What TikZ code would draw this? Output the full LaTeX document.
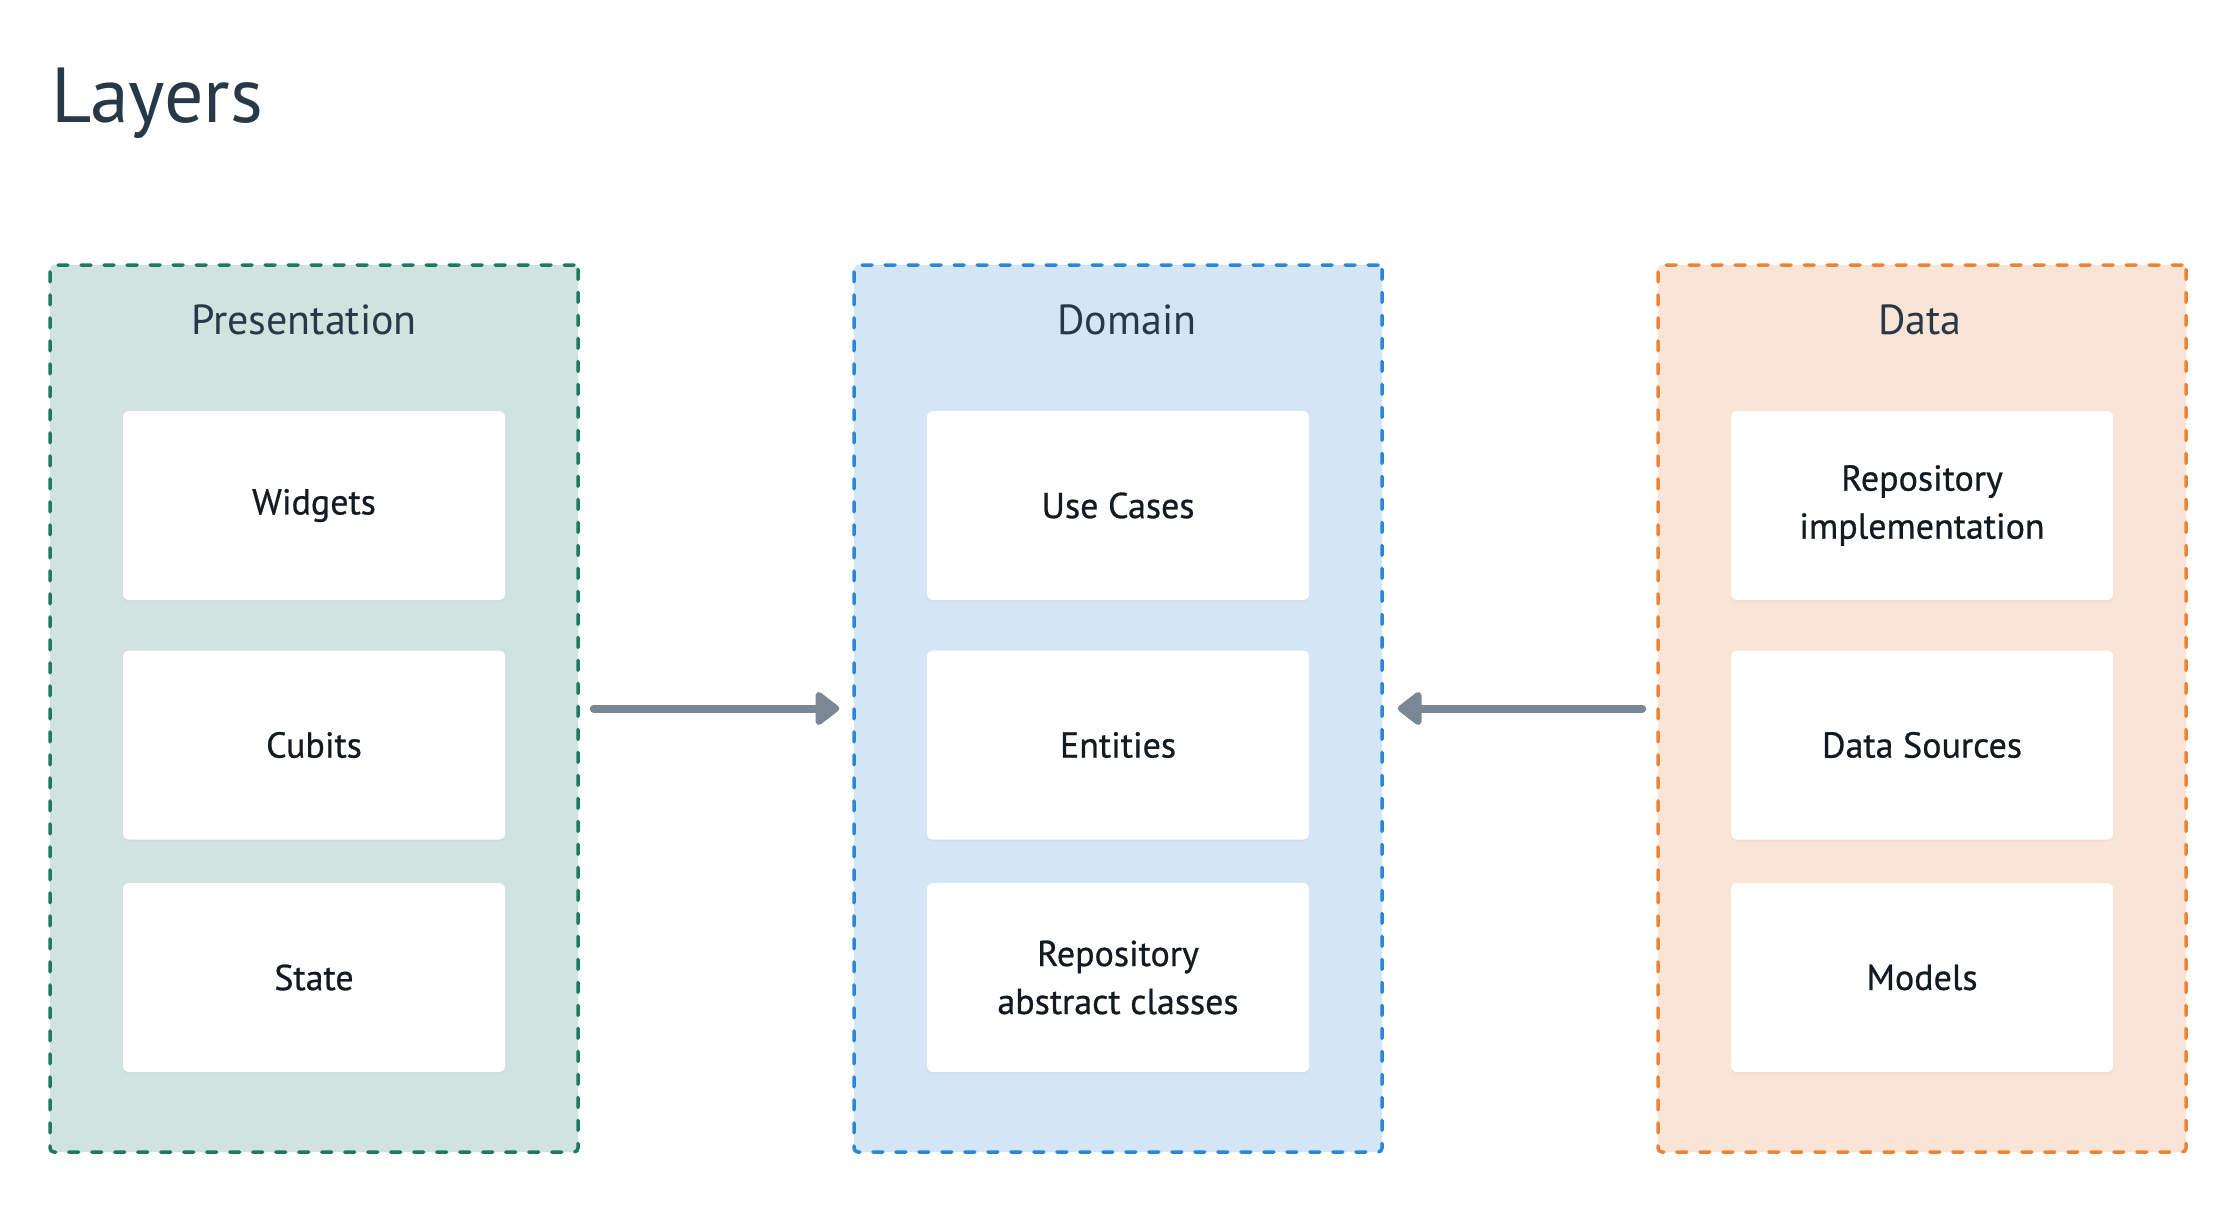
\documentclass[tikz,border=0pt]{standalone}
\usepackage{fontspec}
\setmainfont{PT Sans}
\newfontfamily\itemfont[FakeBold=0.7]{PT Sans}
\usepackage{xcolor}
\usetikzlibrary{arrows.meta,shadows}

\definecolor{titleink}{HTML}{273846}
\definecolor{textink}{HTML}{141A21}
\definecolor{presfill}{HTML}{D1E3DE}
\definecolor{presline}{HTML}{1C7A63}
\definecolor{domfill}{HTML}{D4E5F5}
\definecolor{domline}{HTML}{2A87D8}
\definecolor{datfill}{HTML}{FAE4D6}
\definecolor{datline}{HTML}{EB8535}
\definecolor{arrowgrey}{HTML}{7A8896}

\begin{document}
\begin{tikzpicture}[x=0.5pt,y=-0.5pt,
    layer/.style={draw,rounded corners=2pt,line width=1.75pt,line cap=round,
        dash pattern=on 5pt off 6.5pt,minimum width=264pt,minimum height=443.5pt},
    layername/.style={anchor=base,text=titleink,font=\fontsize{21}{26}\selectfont},
    item/.style={fill=white,rounded corners=3pt,minimum width=191pt,minimum height=94.5pt,
        align=center,text=textink,font=\itemfont\fontsize{18}{24}\selectfont,
        drop shadow={shadow xshift=0pt,shadow yshift=-1pt,opacity=0.06}},
    flow/.style={draw=arrowgrey,line width=4pt,line cap=round,
        -{Triangle[length=13pt,width=19pt,round]}}]
    \fill[white] (0,0) rectangle (2236,1204);
    \useasboundingbox (0,0) rectangle (2236,1204);

    \node[anchor=base west,inner sep=0pt,text=titleink,font=\fontsize{39}{44}\selectfont] (title) at (51,123) {Layers};

    % layers
    \node[layer,draw=presline,fill=presfill] (pres) at (314,708.5) {};
    \node[layer,draw=domline,fill=domfill] (dom) at (1118,708.5) {};
    \node[layer,draw=datline,fill=datfill] (dat) at (1922,708.5) {};

    \node[layername] (presname) at (304,334) {Presentation};
    \node[layername] (domname) at (1127,334) {Domain};
    \node[layername] (datname) at (1920,334) {Data};

    % presentation
    \node[item] (widgets) at (314,505.5) {Widgets};
    \node[item] (cubits) at (314,745) {Cubits};
    \node[item] (state) at (314,977.5) {State};

    % domain
    \node[item] (usecases) at (1118,505.5) {Use Cases};
    \node[item] (entities) at (1118,745) {Entities};
    \node[item] (repoabs) at (1118,977.5) {Repository\\abstract classes};

    % data
    \node[item] (repoimpl) at (1922,505.5) {Repository\\implementation};
    \node[item] (sources) at (1922,745) {Data Sources};
    \node[item] (models) at (1922,977.5) {Models};

    \draw[flow,shorten <=7pt,shorten >=6.5pt] (pres) -- (dom);
    \draw[flow,shorten <=7pt,shorten >=7pt] (dat) -- (dom);
\end{tikzpicture}
\end{document}
